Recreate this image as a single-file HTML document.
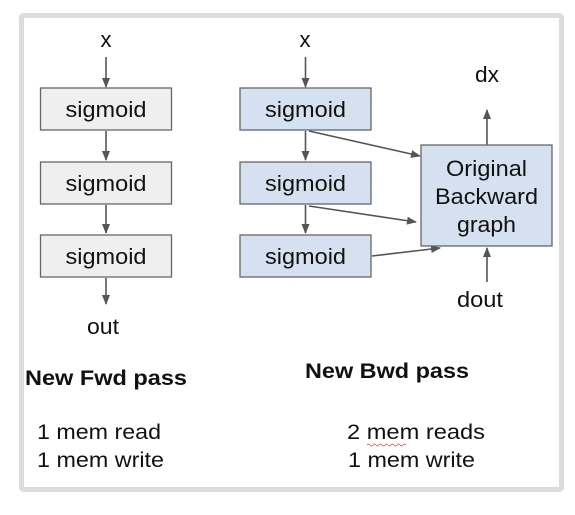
<!DOCTYPE html>
<html><head><style>
html,body{margin:0;padding:0;background:#fff;}
svg text{font-family:"Liberation Sans",Arial,sans-serif;fill:#111;}
</style></head><body>
<svg width="575" height="510" viewBox="0 0 575 510" xmlns="http://www.w3.org/2000/svg">
<defs>
<marker id="a" markerWidth="10" markerHeight="8" refX="9" refY="4" orient="auto" markerUnits="userSpaceOnUse">
<path d="M0,0 L10,4 L0,8 z" fill="#555"/>
</marker>
</defs>
<rect x="21.5" y="15.5" width="540" height="474" fill="#fff" stroke="#dcdcdc" stroke-width="5" rx="2"/>
<g font-size="22" text-anchor="middle">
<text x="106" y="47">x</text>
<text x="305" y="47">x</text>
<text x="487" y="82" textLength="24" lengthAdjust="spacingAndGlyphs">dx</text>
<text x="480" y="307" textLength="46" lengthAdjust="spacingAndGlyphs">dout</text>
<text x="103" y="334" textLength="32" lengthAdjust="spacingAndGlyphs">out</text>
</g>
<g stroke="#555" stroke-width="1.6" fill="none" marker-end="url(#a)">
<line x1="106" y1="57" x2="106" y2="87"/>
<line x1="106" y1="131" x2="106" y2="160"/>
<line x1="106" y1="205" x2="106" y2="233"/>
<line x1="106" y1="278" x2="106" y2="304"/>
<line x1="305.5" y1="57" x2="305.5" y2="87"/>
<line x1="305.5" y1="131" x2="305.5" y2="160"/>
<line x1="305.5" y1="205" x2="305.5" y2="233"/>
<line x1="487" y1="145" x2="487" y2="110"/>
<line x1="487" y1="282" x2="487" y2="248"/>
<line x1="309" y1="131" x2="420" y2="156"/>
<line x1="309" y1="206" x2="416" y2="222"/>
<line x1="372" y1="256" x2="440" y2="248"/>
</g>
<g stroke="#666" stroke-width="1.3">
<rect x="40.5" y="88" width="131" height="42" fill="#efefef"/>
<rect x="40.5" y="162" width="131" height="42" fill="#efefef"/>
<rect x="40.5" y="235" width="131" height="42" fill="#efefef"/>
<rect x="240" y="88" width="131" height="42" fill="#d5e1f0"/>
<rect x="240" y="162" width="131" height="42" fill="#d5e1f0"/>
<rect x="240" y="235" width="131" height="42" fill="#d5e1f0"/>
<rect x="421" y="145" width="131" height="101" fill="#d5e1f0"/>
</g>
<g font-size="22" text-anchor="middle">
<text x="106" y="117" textLength="81" lengthAdjust="spacingAndGlyphs">sigmoid</text>
<text x="106" y="191" textLength="81" lengthAdjust="spacingAndGlyphs">sigmoid</text>
<text x="106" y="264" textLength="81" lengthAdjust="spacingAndGlyphs">sigmoid</text>
<text x="305.5" y="117" textLength="81" lengthAdjust="spacingAndGlyphs">sigmoid</text>
<text x="305.5" y="191" textLength="81" lengthAdjust="spacingAndGlyphs">sigmoid</text>
<text x="305.5" y="264" textLength="81" lengthAdjust="spacingAndGlyphs">sigmoid</text>
<text x="486.5" y="176" textLength="81" lengthAdjust="spacingAndGlyphs">Original</text>
<text x="486.5" y="204" textLength="103" lengthAdjust="spacingAndGlyphs">Backward</text>
<text x="486.5" y="232" textLength="59" lengthAdjust="spacingAndGlyphs">graph</text>
</g>
<g font-size="21" font-weight="bold">
<text x="25" y="385" textLength="162" lengthAdjust="spacingAndGlyphs">New Fwd pass</text>
<text x="305" y="378" textLength="164" lengthAdjust="spacingAndGlyphs">New Bwd pass</text>
</g>
<g font-size="21">
<text x="37" y="439" textLength="124" lengthAdjust="spacingAndGlyphs">1 mem read</text>
<text x="37" y="467" textLength="127" lengthAdjust="spacingAndGlyphs">1 mem write</text>
<text x="347" y="439" textLength="138" lengthAdjust="spacingAndGlyphs">2 mem reads</text>
<text x="348" y="467" textLength="127" lengthAdjust="spacingAndGlyphs">1 mem write</text>
</g>
<path d="M367,445 q1.5,-2 3,0 t3,0 t3,0 t3,0 t3,0 t3,0 t3,0 t3,0 t3,0 t3,0 t3,0 t3,0 t3,0" stroke="#c55" stroke-width="0.8" fill="none"/>
</svg>
</body></html>
